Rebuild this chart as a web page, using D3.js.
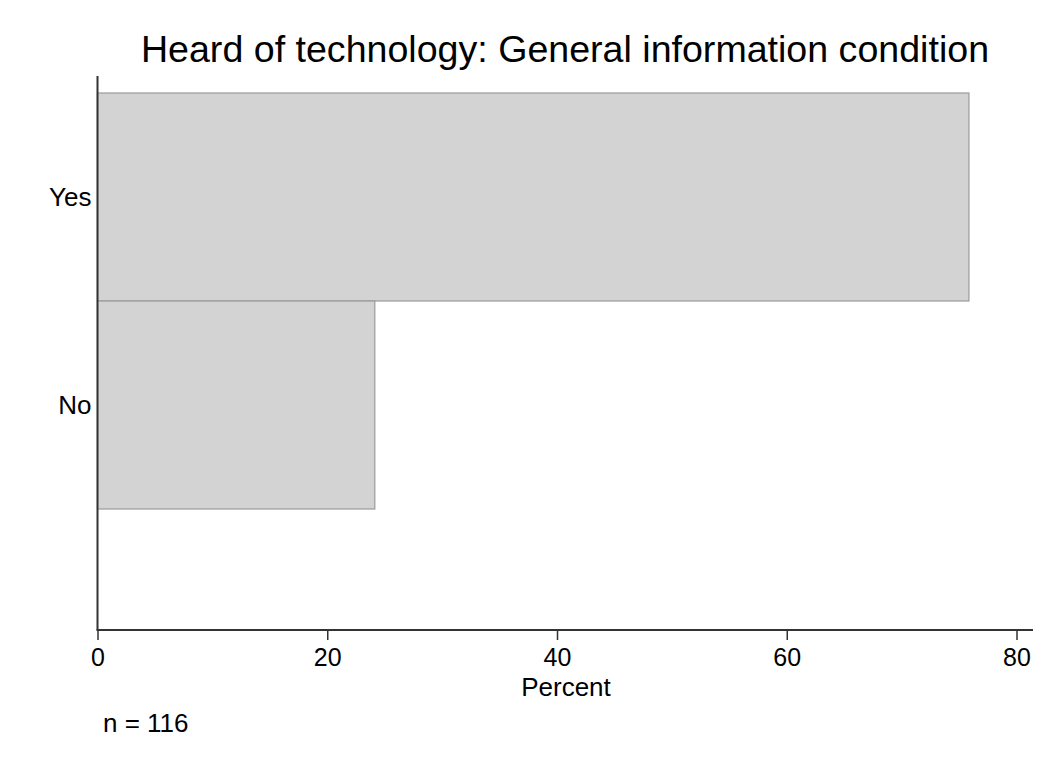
<!DOCTYPE html>
<html>
<head>
<meta charset="utf-8">
<script src="https://cdn.jsdelivr.net/npm/d3@7"></script>
<style>
  body { margin: 0; background: #fff; }
  text { font-family: "Liberation Sans", Arial, Helvetica, sans-serif; fill: #000; }
</style>
</head>
<body>
<div id="chart"></div>
<script>
// Data
const categories = ["Yes", "No"];
const percents = [75.86, 24.14];
const xTicks = [0, 20, 40, 60, 80];
const sampleSize = 116;

const width = 1052;
const height = 769;

// Plot region
const plotLeft = 97.5, plotRight = 1033;
const plotTop = 76, plotBottom = 630;

const svg = d3.select("#chart").append("svg")
  .attr("width", width)
  .attr("height", height);

const x = d3.scaleLinear()
  .domain([0, 80])
  .range([plotLeft, 1016.5]);

const y = d3.scaleBand()
  .domain(categories)
  .range([93, 509])
  .paddingInner(0)
  .paddingOuter(0);

// Title
svg.append("text")
  .attr("x", 565)
  .attr("y", 62)
  .attr("text-anchor", "middle")
  .style("font-size", "37.6px")
  .text("Heard of technology: General information condition");

// Bars
svg.append("g").selectAll("rect")
  .data(categories)
  .join("rect")
  .attr("x", x(0))
  .attr("y", d => y(d))
  .attr("width", (d, i) => x(percents[i]) - x(0))
  .attr("height", y.bandwidth())
  .attr("fill", "#d3d3d3")
  .attr("stroke", "#9a9a9a")
  .attr("stroke-width", 1.2);

// Y axis (labels only, no ticks)
const yAxis = svg.append("g")
  .attr("transform", `translate(${plotLeft},0)`)
  .call(d3.axisLeft(y).tickSize(0).tickPadding(6));
yAxis.select(".domain").remove();
yAxis.selectAll("text")
  .style("font-size", "26px")
  .attr("dy", "0.35em");

svg.append("line")
  .attr("x1", plotLeft).attr("x2", plotLeft)
  .attr("y1", plotTop).attr("y2", plotBottom)
  .attr("stroke", "#333").attr("stroke-width", 2);

// X axis
const xAxis = svg.append("g")
  .attr("transform", `translate(0,${plotBottom})`)
  .call(d3.axisBottom(x).tickValues(xTicks).tickSize(10).tickPadding(8));
xAxis.select(".domain").remove();
xAxis.selectAll(".tick line").attr("stroke", "#333").attr("stroke-width", 1.5);
xAxis.selectAll("text").style("font-size", "25px");

svg.append("line")
  .attr("x1", plotLeft - 1).attr("x2", plotRight)
  .attr("y1", plotBottom).attr("y2", plotBottom)
  .attr("stroke", "#333").attr("stroke-width", 2);

// Axis title
svg.append("text")
  .attr("x", 566)
  .attr("y", 696)
  .attr("text-anchor", "middle")
  .style("font-size", "26px")
  .text("Percent");

// Note
svg.append("text")
  .attr("x", 103)
  .attr("y", 731.5)
  .style("font-size", "26px")
  .text(`n = ${sampleSize}`);
</script>
</body>
</html>
